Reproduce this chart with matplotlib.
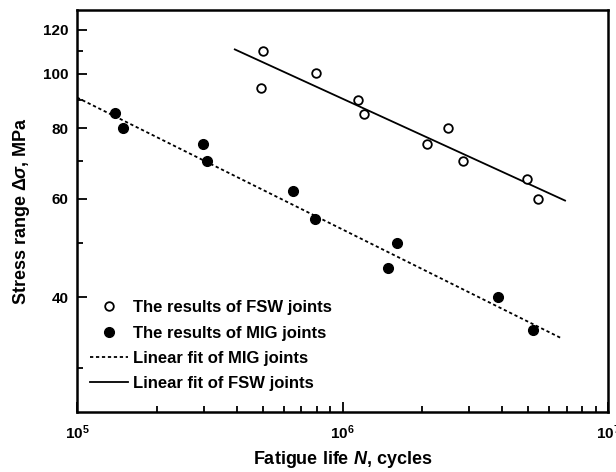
import matplotlib
matplotlib.use("Agg")
import matplotlib.pyplot as plt
from matplotlib.ticker import FixedLocator, NullFormatter, LogLocator, FuncFormatter
import numpy as np

plt.rcParams['font.family'] = ['Liberation Sans', 'DejaVu Sans']
plt.rcParams['font.weight'] = 'bold'
plt.rcParams['mathtext.fontset'] = 'custom'
plt.rcParams['mathtext.rm'] = 'Liberation Sans:bold'
plt.rcParams['mathtext.it'] = 'Liberation Sans:italic:bold'
plt.rcParams['mathtext.bf'] = 'Liberation Sans:bold'

# FSW joints (open circles)
fsw_N = [5.0e5, 4.95e5, 7.98e5, 1.14e6, 1.2e6, 2.09e6, 2.5e6, 2.85e6, 4.95e6, 5.46e6]
fsw_S = [109.7, 94.6, 100.2, 90.0, 84.7, 74.9, 80.0, 69.9, 64.9, 60.0]

# MIG joints (filled circles)
mig_N = [1.39e5, 1.49e5, 2.98e5, 3.08e5, 6.49e5, 7.9e5, 1.49e6, 1.6e6, 3.86e6, 5.22e6]
mig_S = [85.1, 80.0, 74.9, 69.9, 62.0, 55.1, 45.1, 49.9, 40.0, 35.0]

# Linear fit lines (end points)
mig_fit_N = [1.0e5, 6.7e6]
mig_fit_S = [90.8, 33.8]
fsw_fit_N = [3.93e5, 6.89e6]
fsw_fit_S = [110.6, 59.5]

y_major = [40, 60, 80, 100, 120]
y_minor = [30, 50, 70, 90, 110]

fig = plt.figure(figsize=(6.16, 4.72), dpi=100)
ax = fig.add_axes([77/616, 1 - 412/472, (608-77)/616, (412-10)/472])

ax.plot(fsw_N, fsw_S, 'o', ms=6.2, mfc='white', mec='black', mew=1.3,
        label='The results of FSW joints', zorder=3)
ax.plot(mig_N, mig_S, 'o', ms=7, mfc='black', mec='black',
        label='The results of MIG joints', zorder=3)
ax.plot(mig_fit_N, mig_fit_S, color='black', lw=1.3, ls=(0, (1.8, 1.5)),
        label='Linear fit of MIG joints')
ax.plot(fsw_fit_N, fsw_fit_S, color='black', lw=1.3, ls='-',
        label='Linear fit of FSW joints')

ax.set_xscale('log')
ax.set_yscale('log')
ax.set_xlim(1e5, 1e7)
ax.set_ylim(25, 130)

ax.yaxis.set_major_locator(FixedLocator(y_major))
ax.yaxis.set_minor_locator(FixedLocator(y_minor))
ax.set_yticklabels([str(v) for v in y_major])
ax.yaxis.set_minor_formatter(NullFormatter())
ax.xaxis.set_major_locator(LogLocator(base=10))
ax.xaxis.set_major_formatter(FuncFormatter(lambda v, p: r'$\mathbf{10^{%d}}$' % int(round(np.log10(v)))))
ax.xaxis.set_minor_locator(LogLocator(base=10, subs=range(2, 10)))
ax.xaxis.set_minor_formatter(NullFormatter())

ax.tick_params(which='both', direction='in', top=False, right=False, width=1.3,
               colors='black')
ax.tick_params(axis='y', labelsize=11, pad=6)
ax.tick_params(axis='x', labelsize=11, pad=8)
ax.tick_params(which='major', length=7)
ax.tick_params(which='minor', length=4)

for s in ax.spines.values():
    s.set_linewidth(1.8)

ax.set_xlabel(r'Fatigue life $\mathit{N}$, cycles', fontsize=13, fontweight='bold', labelpad=5)
ax.set_ylabel(r'Stress range $\mathit{\Delta\sigma}$, MPa', fontsize=13, fontweight='bold', labelpad=8)

ax.legend(loc='lower left', bbox_to_anchor=(0.012, 0.035), frameon=False,
          prop={'size': 12, 'weight': 'bold'},
          handlelength=2.3, handletextpad=0.25, labelspacing=0.62, borderaxespad=0)

fig.savefig('out.png', dpi=100)
